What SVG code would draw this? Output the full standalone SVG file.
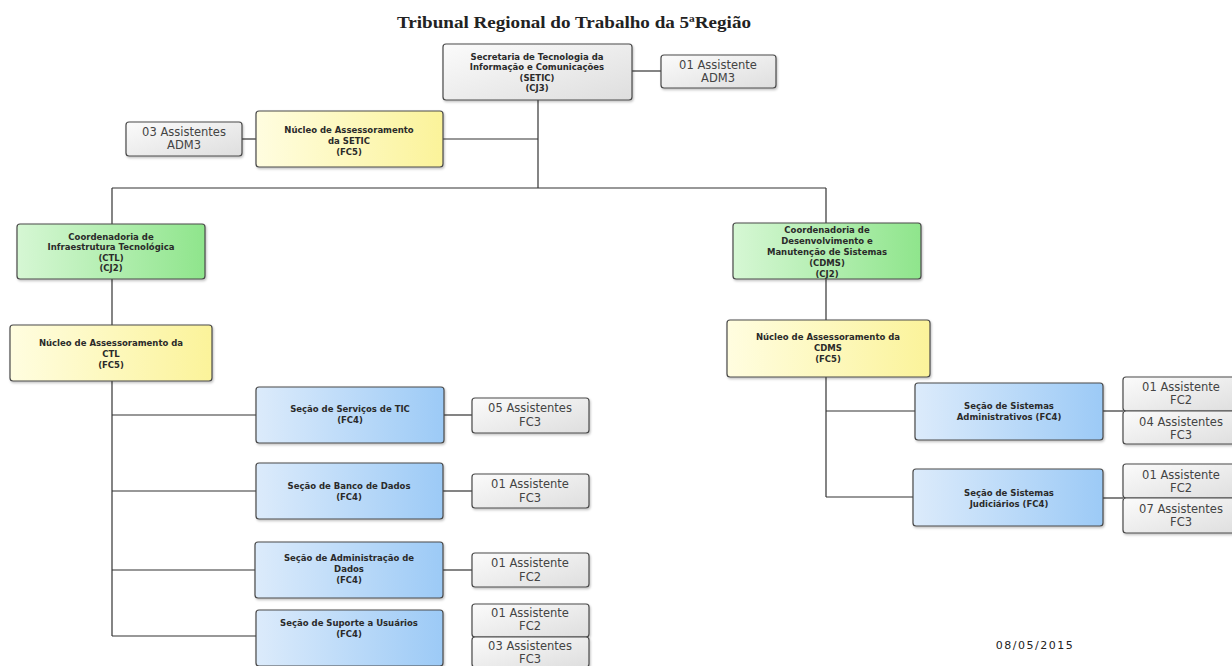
<svg xmlns="http://www.w3.org/2000/svg" width="1232" height="666" viewBox="0 0 1232 666">
<defs>
<linearGradient id="gGray" x1="0" y1="0" x2="1" y2="1"><stop offset="0" stop-color="#fbfbfb"/><stop offset="1" stop-color="#dedede"/></linearGradient>
<linearGradient id="gYel" x1="0" y1="0" x2="1" y2="0"><stop offset="0" stop-color="#fffde0"/><stop offset="1" stop-color="#fbf39a"/></linearGradient>
<linearGradient id="gGrn" x1="0" y1="0" x2="1" y2="0"><stop offset="0" stop-color="#d6f7d4"/><stop offset="1" stop-color="#8fe58c"/></linearGradient>
<linearGradient id="gBlu" x1="0" y1="0" x2="1" y2="0"><stop offset="0" stop-color="#dcebfb"/><stop offset="1" stop-color="#9ccaf6"/></linearGradient>
<filter id="sh" x="-10%" y="-10%" width="130%" height="140%"><feDropShadow dx="1" dy="1.5" stdDeviation="1" flood-color="#000" flood-opacity="0.25"/></filter>
</defs>
<style>
.box{stroke:#4a4a4a;stroke-width:1.2;filter:url(#sh)}
.gray{fill:url(#gGray)}
.yel{fill:url(#gYel)}
.grn{fill:url(#gGrn)}
.blu{fill:url(#gBlu)}
.t{font-family:"DejaVu Sans","Liberation Sans",sans-serif;font-size:8.5px;font-weight:bold;fill:#2a2a2a;text-anchor:middle}
.a{font-family:"DejaVu Sans","Liberation Sans",sans-serif;font-size:11.5px;fill:#444;text-anchor:middle}
.ln{stroke:#333;stroke-width:1.2;fill:none}
</style>
<rect width="1232" height="666" fill="#ffffff"/>
<text x="574" y="28" font-family="Liberation Serif,serif" font-size="16" font-weight="bold" fill="#222" text-anchor="middle" textLength="354" lengthAdjust="spacingAndGlyphs">Tribunal Regional do Trabalho da 5ªRegião</text>

<g id="connectors">
<path class="ln" d="M632 71H661"/>
<path class="ln" d="M242 139H256"/>
<path class="ln" d="M443 139H538"/>
<path class="ln" d="M538 100V188"/>
<path class="ln" d="M112 188H826"/>
<path class="ln" d="M112 188V224"/>
<path class="ln" d="M826 188V223"/>
<path class="ln" d="M112 279V325"/>
<path class="ln" d="M826 279V320"/>
<path class="ln" d="M112 381V636"/>
<path class="ln" d="M112 415H256"/>
<path class="ln" d="M112 491H256"/>
<path class="ln" d="M112 570H255"/>
<path class="ln" d="M112 636H256"/>
<path class="ln" d="M443 415H472"/>
<path class="ln" d="M443 491H472"/>
<path class="ln" d="M443 570H472"/>
<path class="ln" d="M826 377V497"/>
<path class="ln" d="M826 411H915"/>
<path class="ln" d="M826 497H913"/>
<path class="ln" d="M1103 411H1123"/>
<path class="ln" d="M1103 498H1123"/>
</g>

<g id="setic">
<rect class="box gray" x="443" y="44" width="189" height="56" rx="3"/>
<text class="t" x="537" y="60">Secretaria de Tecnologia da</text>
<text class="t" x="537" y="70">Informação e Comunicações</text>
<text class="t" x="537" y="81">(SETIC)</text>
<text class="t" x="537" y="91">(CJ3)</text>
</g>
<g id="setic-asst">
<rect class="box gray" x="661" y="55" width="115" height="33" rx="3"/>
<text class="a" x="718" y="69">01 Assistente</text>
<text class="a" x="718" y="82">ADM3</text>
</g>
<g id="nucleo-setic">
<rect class="box yel" x="256" y="111" width="187" height="56" rx="3"/>
<text class="t" x="349" y="133">Núcleo de Assessoramento</text>
<text class="t" x="349" y="144">da SETIC</text>
<text class="t" x="349" y="155">(FC5)</text>
</g>
<g id="nucleo-setic-asst">
<rect class="box gray" x="126" y="122" width="116" height="34" rx="3"/>
<text class="a" x="184" y="136">03 Assistentes</text>
<text class="a" x="184" y="149">ADM3</text>
</g>

<g id="ctl">
<rect class="box grn" x="17" y="224" width="188" height="55" rx="3"/>
<text class="t" x="111" y="240">Coordenadoria de</text>
<text class="t" x="111" y="250">Infraestrutura Tecnológica</text>
<text class="t" x="111" y="261">(CTL)</text>
<text class="t" x="111" y="271">(CJ2)</text>
</g>
<g id="nucleo-ctl">
<rect class="box yel" x="10" y="325" width="202" height="56" rx="3"/>
<text class="t" x="111" y="346">Núcleo de Assessoramento da</text>
<text class="t" x="111" y="357">CTL</text>
<text class="t" x="111" y="368">(FC5)</text>
</g>

<g id="cdms">
<rect class="box grn" x="733" y="223" width="188" height="56" rx="3"/>
<text class="t" x="827" y="233">Coordenadoria de</text>
<text class="t" x="827" y="244">Desenvolvimento e</text>
<text class="t" x="827" y="255">Manutenção de Sistemas</text>
<text class="t" x="827" y="266">(CDMS)</text>
<text class="t" x="827" y="277">(CJ2)</text>
</g>
<g id="nucleo-cdms">
<rect class="box yel" x="727" y="320" width="203" height="57" rx="3"/>
<text class="t" x="828" y="340">Núcleo de Assessoramento da</text>
<text class="t" x="828" y="351">CDMS</text>
<text class="t" x="828" y="362">(FC5)</text>
</g>

<g id="sec-servicos">
<rect class="box blu" x="256" y="387" width="188" height="56" rx="3"/>
<text class="t" x="350" y="412">Seção de Serviços de TIC</text>
<text class="t" x="350" y="423">(FC4)</text>
</g>
<g id="sec-servicos-asst">
<rect class="box gray" x="472" y="398" width="117" height="35" rx="3"/>
<text class="a" x="530" y="412">05 Assistentes</text>
<text class="a" x="530" y="426">FC3</text>
</g>

<g id="sec-banco">
<rect class="box blu" x="256" y="463" width="187" height="56" rx="3"/>
<text class="t" x="349" y="489">Seção de Banco de Dados</text>
<text class="t" x="349" y="500">(FC4)</text>
</g>
<g id="sec-banco-asst">
<rect class="box gray" x="472" y="474" width="117" height="34" rx="3"/>
<text class="a" x="530" y="488">01 Assistente</text>
<text class="a" x="530" y="502">FC3</text>
</g>

<g id="sec-admin-dados">
<rect class="box blu" x="255" y="542" width="188" height="56" rx="3"/>
<text class="t" x="349" y="561">Seção de Administração de</text>
<text class="t" x="349" y="572">Dados</text>
<text class="t" x="349" y="583">(FC4)</text>
</g>
<g id="sec-admin-dados-asst">
<rect class="box gray" x="472" y="553" width="117" height="34" rx="3"/>
<text class="a" x="530" y="567">01 Assistente</text>
<text class="a" x="530" y="581">FC2</text>
</g>

<g id="sec-suporte">
<rect class="box blu" x="256" y="610" width="187" height="56" rx="3"/>
<text class="t" x="349" y="626">Seção de Suporte a Usuários</text>
<text class="t" x="349" y="637">(FC4)</text>
</g>
<g id="sec-suporte-asst">
<rect class="box gray" x="472" y="604" width="117" height="33" rx="3"/>
<rect class="box gray" x="472" y="637" width="117" height="30" rx="3"/>
<text class="a" x="530" y="617">01 Assistente</text>
<text class="a" x="530" y="630">FC2</text>
<text class="a" x="530" y="650">03 Assistentes</text>
<text class="a" x="530" y="663">FC3</text>
</g>

<g id="sec-sis-admin">
<rect class="box blu" x="915" y="383" width="188" height="57" rx="3"/>
<text class="t" x="1009" y="409">Seção de Sistemas</text>
<text class="t" x="1009" y="420">Administrativos (FC4)</text>
</g>
<g id="sec-sis-admin-asst">
<rect class="box gray" x="1123" y="377" width="120" height="34" rx="3"/>
<rect class="box gray" x="1123" y="411" width="120" height="33" rx="3"/>
<text class="a" x="1181" y="391">01 Assistente</text>
<text class="a" x="1181" y="404">FC2</text>
<text class="a" x="1181" y="426">04 Assistentes</text>
<text class="a" x="1181" y="439">FC3</text>
</g>

<g id="sec-sis-jud">
<rect class="box blu" x="913" y="469" width="190" height="57" rx="3"/>
<text class="t" x="1009" y="496">Seção de Sistemas</text>
<text class="t" x="1009" y="507">Judiciários (FC4)</text>
</g>
<g id="sec-sis-jud-asst">
<rect class="box gray" x="1123" y="464" width="120" height="34" rx="3"/>
<rect class="box gray" x="1123" y="498" width="120" height="35" rx="3"/>
<text class="a" x="1181" y="479">01 Assistente</text>
<text class="a" x="1181" y="492">FC2</text>
<text class="a" x="1181" y="513">07 Assistentes</text>
<text class="a" x="1181" y="526">FC3</text>
</g>

<text x="1035" y="649" font-family="DejaVu Sans,sans-serif" font-size="11" fill="#222" text-anchor="middle" letter-spacing="1.5">08/05/2015</text>
</svg>
